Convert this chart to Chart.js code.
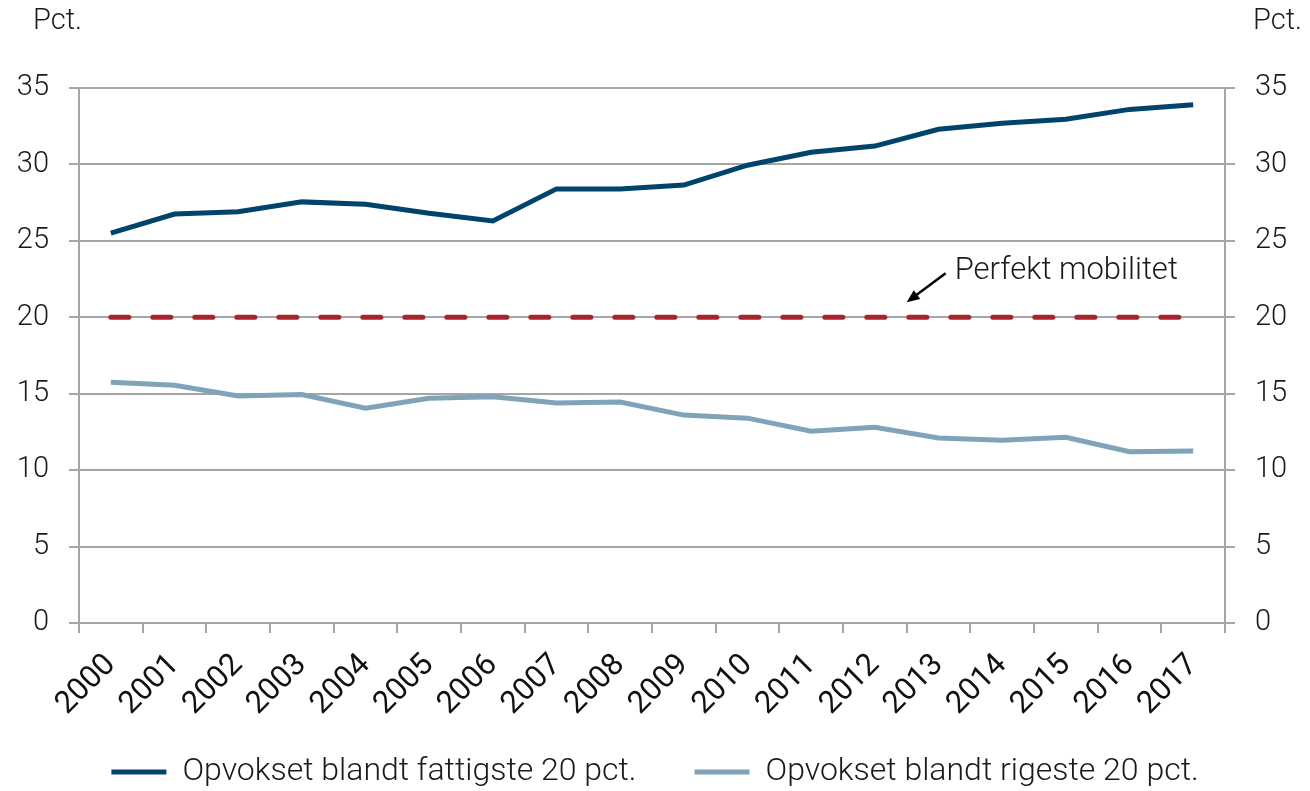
<!DOCTYPE html>
<html>
<head>
<meta charset="utf-8">
<script src="https://cdn.jsdelivr.net/npm/chart.js@4/dist/chart.umd.min.js"></script>
<style>
  html, body { margin: 0; padding: 0; background: #fff; }
  #wrap { width: 1310px; height: 791px; }
</style>
</head>
<body>
<div id="wrap"><canvas id="chart1" width="1310" height="791"></canvas></div>
<script>
var years = ['2000', '2001', '2002', '2003', '2004', '2005', '2006', '2007', '2008',
             '2009', '2010', '2011', '2012', '2013', '2014', '2015', '2016', '2017'];
var poorest = [25.5, 26.75, 26.9, 27.55, 27.4, 26.8, 26.3, 28.4, 28.4,
               28.65, 29.95, 30.8, 31.2, 32.3, 32.7, 32.95, 33.6, 33.9];
var richest = [15.75, 15.55, 14.85, 14.95, 14.05, 14.7, 14.8, 14.4, 14.45,
               13.6, 13.4, 12.55, 12.8, 12.1, 11.95, 12.15, 11.2, 11.25];
var perfect = years.map(function () { return 20; });
var unit = 'Pct.';
var noteText = 'Perfekt mobilitet';

var fontFamily = 'Roboto, "Open Sans", sans-serif';
var gridColor = '#a6a6a6';

// Pct. labels above the axes and the arrow note for the dashed line
var extras = {
    id: 'extras',
    afterLayout: function (chart) {
        // legend row sits a little lower, and the year labels may run into its box
        chart.legend.top += 7;
        chart.legend.bottom += 7;
        chart.scales.x.bottom = chart.height;
    },
    afterDraw: function (chart) {
        var c = chart.ctx;
        var x = chart.scales.x, y = chart.scales.y;
        c.save();
        c.fillStyle = '#1a1a1a';
        c.font = '300 29px ' + fontFamily;
        c.textBaseline = 'middle';
        c.textAlign = 'left';
        c.fillText(unit, 33, 22);
        c.textAlign = 'right';
        c.fillText(unit, 1302, 22);

        var tipX = (x.getPixelForValue(12) + x.getPixelForValue(13)) / 2;
        var tipY = y.getPixelForValue(20) - 15;
        var tailX = tipX + 39, tailY = tipY - 29;
        c.strokeStyle = '#000';
        c.fillStyle = '#000';
        c.lineWidth = 2.5;
        c.beginPath();
        c.moveTo(tailX, tailY);
        c.lineTo(tipX + 6, tipY - 4.5);
        c.stroke();
        var ang = Math.atan2(tipY - tailY, tipX - tailX);
        c.beginPath();
        c.moveTo(tipX, tipY);
        c.lineTo(tipX - 14 * Math.cos(ang - 0.4), tipY - 14 * Math.sin(ang - 0.4));
        c.lineTo(tipX - 14 * Math.cos(ang + 0.4), tipY - 14 * Math.sin(ang + 0.4));
        c.closePath();
        c.fill();

        c.fillStyle = '#1a1a1a';
        c.font = '300 31px ' + fontFamily;
        c.textAlign = 'left';
        c.fillText(noteText, tailX + 9, y.getPixelForValue(23.0));
        c.restore();
    }
};

var ctx = document.getElementById('chart1');

var chart1 = new Chart(ctx, {
    type: 'line',
    data: {
        labels: years,
        datasets: [{
            label: 'Opvokset blandt fattigste 20 pct.',
            data: poorest,
            borderColor: '#00446b',
            backgroundColor: '#00446b',
            borderWidth: 5,
            pointRadius: 0,
            tension: 0
        }, {
            label: 'Opvokset blandt rigeste 20 pct.',
            data: richest,
            borderColor: '#7fa3b9',
            backgroundColor: '#7fa3b9',
            borderWidth: 5,
            pointRadius: 0,
            tension: 0
        }, {
            label: noteText,
            data: perfect,
            borderColor: '#a6242b',
            backgroundColor: '#a6242b',
            borderWidth: 5,
            borderDash: [18, 24],
            borderCapStyle: 'round',
            pointRadius: 0
        }]
    },
    options: {
        responsive: false,
        maintainAspectRatio: false,
        animation: false,
        layout: { padding: { top: 88, left: 0, right: 0, bottom: 0 } },
        plugins: {
            tooltip: { enabled: false },
            legend: {
                position: 'bottom',
                labels: {
                    color: '#1a1a1a',
                    font: { family: fontFamily, size: 32, weight: 300, lineHeight: 1 },
                    boxWidth: 55,
                    boxHeight: 5,
                    padding: 58,
                    filter: function (item) { return item.datasetIndex < 2; },
                    generateLabels: function (chart) {
                        return chart.data.datasets.map(function (ds, i) {
                            return {
                                text: ds.label,
                                fillStyle: ds.borderColor,
                                strokeStyle: ds.borderColor,
                                lineWidth: 0,
                                fontColor: '#1a1a1a',
                                datasetIndex: i
                            };
                        });
                    }
                }
            }
        },
        scales: {
            x: {
                offset: true,
                grid: {
                    offset: true,
                    drawOnChartArea: false,
                    drawTicks: true,
                    tickLength: 10,
                    color: gridColor,
                    lineWidth: 2
                },
                border: { color: gridColor, width: 2 },
                ticks: {
                    color: '#111',
                    font: { family: fontFamily, size: 31, weight: 400 },
                    minRotation: 45,
                    maxRotation: 45,
                    padding: 14
                },
                afterFit: function (s) { s.height = 68; }
            },
            y: {
                position: 'left',
                min: 0,
                max: 35,
                ticks: {
                    stepSize: 5,
                    color: '#1a1a1a',
                    font: { family: fontFamily, size: 29, weight: 300 },
                    padding: 20
                },
                grid: { color: gridColor, lineWidth: 2, tickLength: 10 },
                border: { color: gridColor, width: 2 },
                afterFit: function (s) { s.width = 79; }
            },
            y2: {
                position: 'right',
                min: 0,
                max: 35,
                ticks: {
                    stepSize: 5,
                    color: '#1a1a1a',
                    font: { family: fontFamily, size: 29, weight: 300 },
                    padding: 20
                },
                grid: { drawOnChartArea: false, color: gridColor, lineWidth: 2, tickLength: 10 },
                border: { color: gridColor, width: 2 },
                afterFit: function (s) { s.width = 85; }
            }
        }
    },
    plugins: [extras]
});
</script>
</body>
</html>
